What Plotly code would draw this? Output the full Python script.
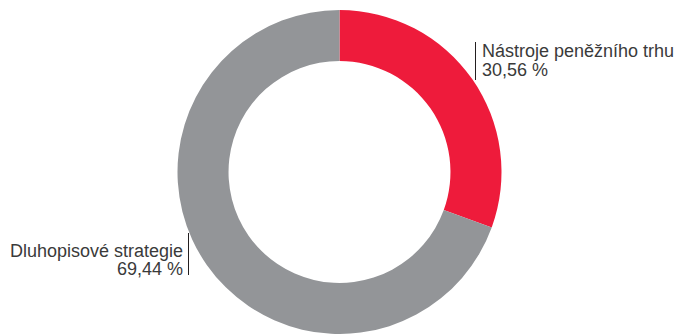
import plotly.graph_objects as go

W, H = 676, 334

categories = ["Nástroje peněžního trhu", "Dluhopisové strategie"]
values = [30.56, 69.44]
value_labels = ["30,56 %", "69,44 %"]
colors = ["#EE1B3B", "#939598"]

cx, top, R = 339.5, 10, 162

fig = go.Figure(go.Pie(
    labels=categories,
    values=values,
    sort=False,
    direction="clockwise",
    rotation=0,
    hole=0.685,
    marker=dict(colors=colors, line=dict(width=0)),
    textinfo="none",
    hoverinfo="none",
    showlegend=False,
    domain=dict(x=[(cx - R) / W, (cx + R) / W], y=[1 - (top + 2 * R) / H, 1 - top / H]),
))

font = dict(family="Liberation Sans, Arial, sans-serif", size=18, color="#3a3a3a")

def px(x):
    return x / W

def py(y):
    return 1 - y / H

ann = []
# right label
ann.append(dict(x=px(481), y=py(51), text=categories[0], xanchor="left", yanchor="middle"))
ann.append(dict(x=px(481), y=py(70.5), text=value_labels[0], xanchor="left", yanchor="middle"))
# left label
ann.append(dict(x=px(184), y=py(250.5), text=categories[1], xanchor="right", yanchor="middle"))
ann.append(dict(x=px(184), y=py(268.5), text=value_labels[1], xanchor="right", yanchor="middle"))
for a in ann:
    a.update(xref="paper", yref="paper", showarrow=False, font=font, borderpad=0)

shapes = [
    dict(type="line", xref="paper", yref="paper", x0=px(475.5), x1=px(475.5), y0=py(42), y1=py(80),
         line=dict(color="#231F20", width=1)),
    dict(type="line", xref="paper", yref="paper", x0=px(188.5), x1=px(188.5), y0=py(233), y1=py(275),
         line=dict(color="#231F20", width=1)),
]

fig.update_layout(
    width=W, height=H,
    margin=dict(l=0, r=0, t=0, b=0),
    paper_bgcolor="white", plot_bgcolor="white",
    annotations=ann, shapes=shapes,
)

fig.write_html("out.html")
